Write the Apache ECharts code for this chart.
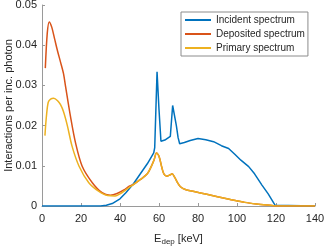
<!DOCTYPE html>
<html>
<head>
<meta charset="utf-8">
<script src="https://cdn.jsdelivr.net/npm/echarts@6/dist/echarts.min.js"></script>
<style>
html,body{margin:0;padding:0;background:#fff;}
#c{width:324px;height:248px;}
</style>
</head>
<body>
<div id="c"></div>
<script>
// Tick labels
const xTicks = [0, 20, 40, 60, 80, 100, 120, 140];
const yTicks = [0, 0.01, 0.02, 0.03, 0.04, 0.05];
const seriesNames = ['Incident spectrum', 'Deposited spectrum', 'Primary spectrum'];

// Incident spectrum (keV, interactions per inc. photon)
const incidentE = [0, 30, 33, 36, 40, 43, 47, 50, 54, 57.3, 57.8, 59, 60, 61, 63, 65.8, 67, 68, 68.9, 69.8, 70.6, 73, 76, 80, 84, 88, 92, 95.7, 99, 102, 106, 109, 112.8, 116, 119.5, 120, 140];
const incidentY = [0, 0, 0.0002, 0.0006, 0.0018, 0.0033, 0.0056, 0.0077, 0.0105, 0.0132, 0.0145, 0.0334, 0.0240, 0.0161, 0.0164, 0.0173, 0.0250, 0.0254, 0.0200, 0.0170, 0.0155, 0.0158, 0.0163, 0.0168, 0.0165, 0.0160, 0.0150, 0.0143, 0.0128, 0.0114, 0.0098, 0.0080, 0.0052, 0.0030, 0.0002, 0, 0];

// Deposited spectrum (low-energy part; above 45 keV it follows the primary spectrum)
const depositedE = [1.7, 2.7, 3.7, 5, 6.5, 8, 9.5, 11, 12.1, 14.6, 17.2, 20.6, 25.8, 30.8, 35, 38.5, 42, 45];
const depositedY = [0.0343, 0.0430, 0.0458, 0.0445, 0.0415, 0.0385, 0.0358, 0.0330, 0.0297, 0.0223, 0.0157, 0.0099, 0.0058, 0.0033, 0.0027, 0.0031, 0.0040, 0.0050];

// Primary spectrum
const primaryE = [1.5, 2.3, 3.2, 4.4, 6, 8, 9.5, 11, 13, 15.4, 19, 24, 29, 33.7, 37.5, 40, 43, 47, 50.5, 54, 56, 57.5, 58.7, 60, 61.5, 62.5, 64, 65.5, 66.7, 68, 69.5, 71, 73.5, 78, 84.5, 90, 96, 104, 110, 118, 120, 140];
const primaryY = [0.0175, 0.0225, 0.0258, 0.0266, 0.0268, 0.0262, 0.0252, 0.0235, 0.0200, 0.0149, 0.0099, 0.0058, 0.0037, 0.0026, 0.0025, 0.0030, 0.0040, 0.0054, 0.0066, 0.0080, 0.0098, 0.0115, 0.0132, 0.0124, 0.0095, 0.0080, 0.0074, 0.0077, 0.0080, 0.0072, 0.0058, 0.0048, 0.0041, 0.0036, 0.0029, 0.0023, 0.0017, 0.0009, 0.0005, 0.0001, 0, 0];

const pairs = (xs, ys) => xs.map((x, i) => [x, ys[i]]);
const primaryPairs = pairs(primaryE, primaryY);
const depositedPairs = pairs(depositedE, depositedY).concat(primaryPairs.filter(p => p[0] > 45));

const FONT = '"Liberation Sans", Arial, Helvetica, sans-serif';
const TXT = '#262626';
const AX = '#9a9a9a';

const chart = echarts.init(document.getElementById('c'), null, {renderer: 'canvas'});
chart.setOption({
  animation: false,
  backgroundColor: '#fff',
  textStyle: {fontFamily: FONT},
  grid: {left: 42, right: 9, top: 5, bottom: 42, containLabel: false, outerBoundsMode: 'none'},
  legend: {
    orient: 'vertical',
    left: 181,
    top: 12,
    width: 126,
    padding: [3, 3, 3, 3],
    itemWidth: 26,
    itemHeight: 9,
    itemGap: 4,
    itemTextGap: 2,
    backgroundColor: '#fff',
    borderColor: '#8c8c8c',
    borderWidth: 1,
    borderRadius: 0,
    itemStyle: {opacity: 0},
    textStyle: {fontFamily: FONT, fontSize: 10, color: TXT},
    data: seriesNames
  },
  xAxis: {
    type: 'value',
    min: xTicks[0], max: xTicks[xTicks.length - 1], interval: 20,
    name: '{e|E}{s|dep}{e| [keV]}',
    nameLocation: 'middle',
    nameGap: 26,
    nameMoveOverlap: false,
    nameTextStyle: {
      rich: {
        e: {fontFamily: FONT, fontSize: 11, color: TXT},
        s: {fontFamily: FONT, fontSize: 8, color: TXT, verticalAlign: 'bottom', padding: [6, 0, 0, 0]}
      }
    },
    axisLine: {show: true, onZero: false, lineStyle: {color: AX, width: 1}},
    axisTick: {show: true, inside: true, length: 3, lineStyle: {color: AX}},
    axisLabel: {fontFamily: FONT, fontSize: 11, color: TXT, margin: 7},
    splitLine: {show: false}
  },
  yAxis: {
    type: 'value',
    min: yTicks[0], max: yTicks[yTicks.length - 1], interval: 0.01,
    name: 'Interactions per inc. photon',
    nameLocation: 'middle',
    nameGap: 28,
    nameMoveOverlap: false,
    nameTextStyle: {fontFamily: FONT, fontSize: 11, color: TXT},
    axisLine: {show: true, lineStyle: {color: AX, width: 1}},
    axisTick: {show: true, inside: true, length: 3, lineStyle: {color: AX}},
    axisLabel: {fontFamily: FONT, fontSize: 11, color: TXT, margin: 5,
      formatter: v => String(Math.round(v * 100) / 100)},
    splitLine: {show: false}
  },
  series: [
    {name: seriesNames[0], type: 'line', data: pairs(incidentE, incidentY), symbol: 'none',
     lineStyle: {color: '#0072BD', width: 1.5}, itemStyle: {color: '#0072BD'}},
    {name: seriesNames[1], type: 'line', data: depositedPairs, symbol: 'none', smooth: 0.3,
     lineStyle: {color: '#D95319', width: 1.5}, itemStyle: {color: '#D95319'}},
    {name: seriesNames[2], type: 'line', data: primaryPairs, symbol: 'none', smooth: 0.3,
     lineStyle: {color: '#EDB120', width: 1.5}, itemStyle: {color: '#EDB120'}}
  ]
});
</script>
</body>
</html>
